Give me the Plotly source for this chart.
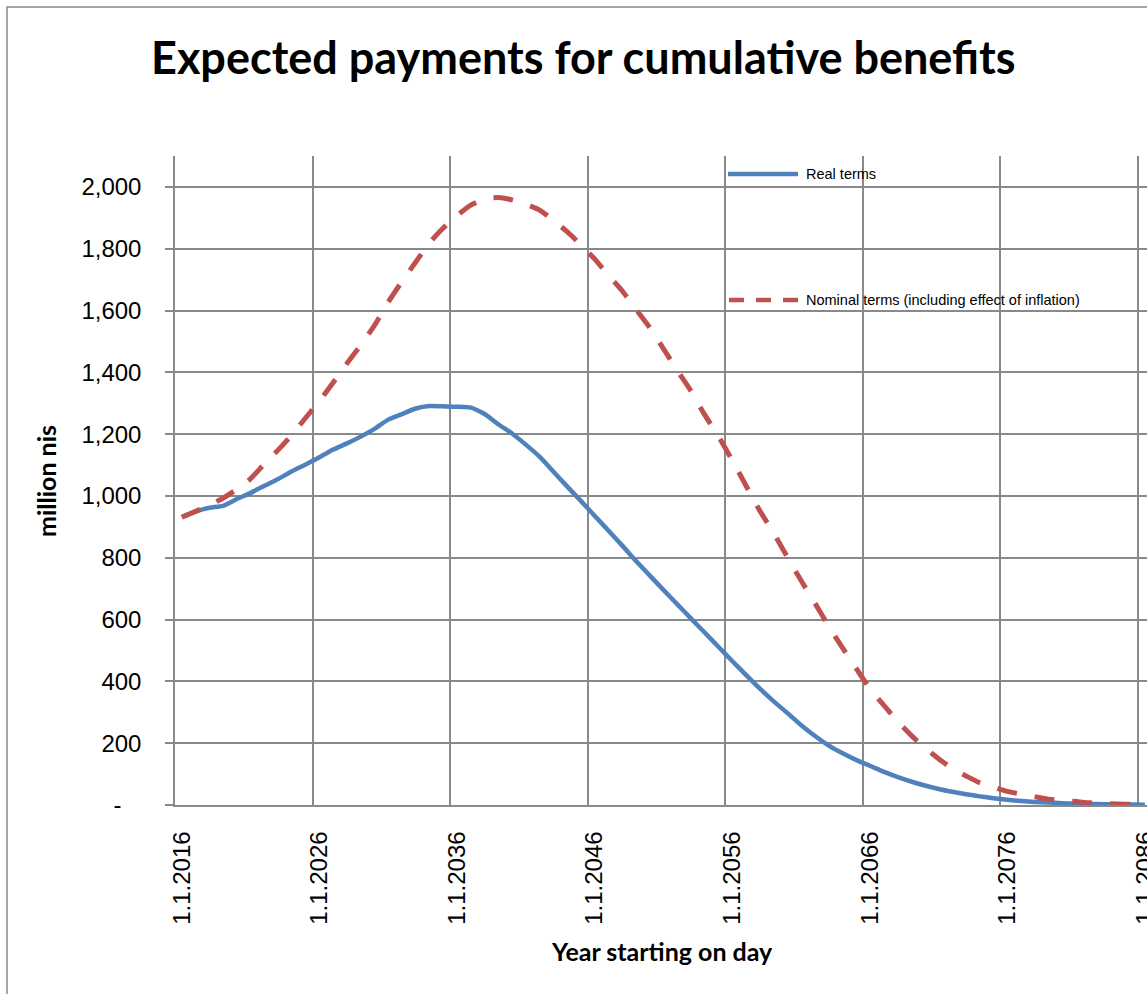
import plotly.graph_objects as go

# ---------------- data ----------------
years = list(range(2016, 2087))  # year starting on 1.1.YYYY

real_terms = [
    932, 950, 962, 968, 990, 1010, 1033, 1055, 1080, 1102,
    1125, 1150, 1170, 1192, 1217, 1247, 1265, 1283, 1291, 1290,
    1289, 1286, 1265, 1232, 1202, 1166, 1127, 1079, 1031, 984,
    936, 888, 840, 790, 743, 696, 650, 604, 558, 512,
    466, 421, 377, 336, 298, 259, 224, 193, 168, 146,
    127, 108, 91, 76, 63, 52, 43, 35, 28, 22,
    17, 13, 10, 8, 6, 4.5, 3.5, 2.5, 2, 1.5, 1,
]

nominal_terms = [
    931, 950, 970, 993, 1022, 1056, 1104, 1149, 1198, 1253,
    1307, 1367, 1429, 1488, 1552, 1627, 1694, 1757, 1819, 1867,
    1907, 1941, 1961, 1966, 1958, 1944, 1925, 1892, 1855, 1813,
    1767, 1714, 1664, 1604, 1545, 1477, 1407, 1340, 1263, 1193,
    1116, 1034, 953, 881, 803, 727, 654, 580, 510, 443,
    377, 324, 272, 226, 185, 150, 118, 94, 72, 58,
    44, 35, 27, 19, 14, 11, 7, 5, 3, 2, 1.5,
]

tick_years = list(range(2016, 2087, 10))
tick_labels = ["1.1.%d" % y for y in tick_years]

y_tick_vals = list(range(0, 2001, 200))
y_tick_text = ["-\u00a0\u00a0\u00a0"] + ["{:,}".format(v) for v in y_tick_vals[1:]]

series_names = ["Real terms", "Nominal terms (including effect of inflation)"]

BLUE = "#4F81BD"
RED = "#C0504D"
GRID = "#898989"

# ---------------- layout geometry (px) ----------------
W, H = 1147, 994
L, T, R, B = 175, 156, 0, 189
PW = W - L - R
PH = H - T - B


def px_x(px):
    return (px - L) / PW


def px_y(py):
    return 1 - (py - T) / PH


x_mid = [y + 0.5 for y in years]

fig = go.Figure()
fig.add_trace(go.Scatter(
    x=x_mid, y=real_terms, mode="lines", name=series_names[0],
    line=dict(color=BLUE, width=4.5, shape="spline", smoothing=0.6), showlegend=False,
))
fig.add_trace(go.Scatter(
    x=x_mid, y=nominal_terms, mode="lines", name=series_names[1],
    line=dict(color=RED, width=5, dash="20px,18px", shape="spline", smoothing=0.6),
    showlegend=False,
))

x_end = 2016 + PW / 13.757

fig.update_xaxes(
    range=[2016, x_end],
    tickmode="array",
    tickvals=[y + 0.5 for y in tick_years],
    ticktext=tick_labels,
    tickangle=-90,
    ticks="",
    showgrid=False,
    zeroline=False,
    showline=True, linecolor=GRID, linewidth=1.5,
    tickfont=dict(family="Liberation Sans, Arial", size=24, color="black"),
    ticklabelstandoff=15,
    ticklabeloverflow="allow",
    minor=dict(tick0=2016, dtick=10, showgrid=True, gridcolor=GRID, gridwidth=1.5, ticks=""),
)
fig.update_yaxes(
    range=[0, 2100],
    tickmode="array",
    tickvals=y_tick_vals,
    ticktext=y_tick_text,
    ticks="outside", ticklen=8, tickcolor=GRID, tickwidth=1.5,
    showgrid=True, gridcolor=GRID, gridwidth=1.5,
    zeroline=False,
    showline=True, linecolor=GRID, linewidth=1.5,
    tickfont=dict(family="Liberation Sans, Arial", size=24, color="black"),
    ticklabelstandoff=19,
)

shapes = [
    # outer chart border (top and left visible)
    dict(type="rect", xref="paper", yref="paper",
         x0=px_x(7), x1=1.3, y0=-0.5, y1=px_y(7),
         line=dict(color=GRID, width=1.5), fillcolor="rgba(0,0,0,0)", layer="below"),
    # legend samples
    dict(type="line", xref="paper", yref="paper",
         x0=px_x(728), x1=px_x(798), y0=px_y(174), y1=px_y(174),
         line=dict(color=BLUE, width=4.5)),
    dict(type="line", xref="paper", yref="paper",
         x0=px_x(729), x1=px_x(798), y0=px_y(300), y1=px_y(300),
         line=dict(color=RED, width=4.5, dash="15px,12px")),
]

annotations = [
    dict(text="<b>Expected payments for cumulative benefits</b>", xref="paper", yref="paper",
         x=px_x(583), y=px_y(57), xanchor="center", yanchor="middle", showarrow=False,
         font=dict(family="Lato", size=45, color="black")),
    dict(text="<b>million nis</b>", xref="paper", yref="paper",
         x=px_x(46), y=px_y(481), xanchor="center", yanchor="middle", showarrow=False,
         textangle=-90, font=dict(family="Lato", size=25, color="black")),
    dict(text="<b>Year starting on day</b>", xref="paper", yref="paper",
         x=px_x(662), y=px_y(951), xanchor="center", yanchor="middle", showarrow=False,
         font=dict(family="Lato", size=25, color="black")),
    dict(text=series_names[0], xref="paper", yref="paper",
         x=px_x(804), y=px_y(174), xanchor="left", yanchor="middle", showarrow=False,
         font=dict(family="Liberation Sans, Arial", size=14.5, color="black")),
    dict(text=series_names[1], xref="paper", yref="paper",
         x=px_x(804), y=px_y(300), xanchor="left", yanchor="middle", showarrow=False,
         font=dict(family="Liberation Sans, Arial", size=14.5, color="black")),
]

fig.update_layout(
    width=W, height=H,
    margin=dict(l=L, r=R, t=T, b=B, autoexpand=False),
    paper_bgcolor="white", plot_bgcolor="white",
    shapes=shapes, annotations=annotations,
    showlegend=False,
)

fig.write_html("out.html")
